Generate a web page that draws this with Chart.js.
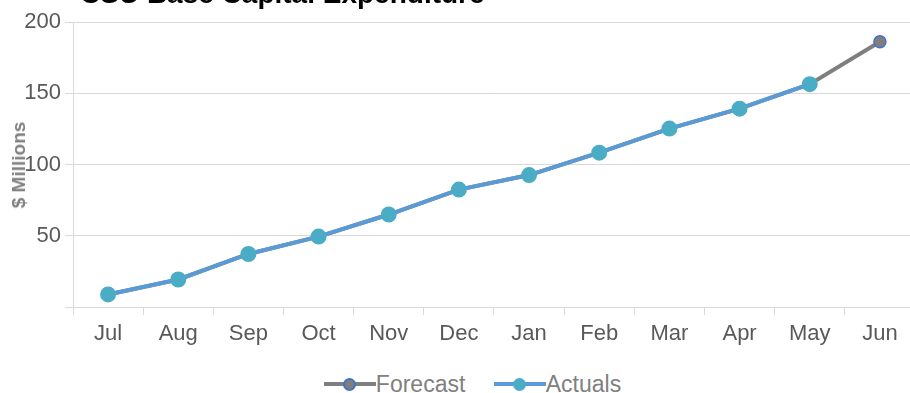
<!DOCTYPE html>
<html>
<head>
<meta charset="utf-8">
<script src="https://cdn.jsdelivr.net/npm/chart.js@4"></script>
<style>
  html, body { margin: 0; padding: 0; background: #fff; width: 910px; height: 393px; overflow: hidden; position: relative; font-family: "Liberation Sans", Arial, sans-serif; }
  #wrap { position: absolute; left: 0; top: 0; width: 925px; height: 355px; }
  #title { position: absolute; left: 80px; top: -22px; font-weight: bold; font-size: 28px; color: #000; white-space: nowrap; }
  #ytitle { position: absolute; left: 19px; top: 165px; transform: translate(-50%, -50%) rotate(-90deg); font-weight: bold; font-size: 19px; color: #808080; white-space: nowrap; }
  #legend { position: absolute; top: 371px; left: 0; width: 945px; text-align: center; font-size: 23px; color: #808080; line-height: 26px; white-space: nowrap; }
  .item { display: inline-block; margin: 0 11px; }
  .sym { display: inline-block; position: relative; width: 52px; height: 14px; vertical-align: middle; top: -2px; }
  .sym .ln { position: absolute; left: 0; right: 0; top: 5px; height: 4px; }
  .sym .dot { position: absolute; left: 19px; top: 1px; width: 13px; height: 13px; border-radius: 50%; box-sizing: border-box; }
</style>
</head>
<body>
<div id="wrap"><canvas id="graph"></canvas></div>
<div id="title">CSU Base Capital Expenditure</div>
<div id="ytitle">$ Millions</div>
<div id="legend">
  <span class="item"><span class="sym"><span class="ln" style="background:#7f7f7f"></span><span class="dot" style="background:#7f7f7f;border:2px solid #4472c4;"></span></span>Forecast</span>
  <span class="item"><span class="sym"><span class="ln" style="background:#5b9bd5"></span><span class="dot" style="background:#4bacc6;"></span></span>Actuals</span>
</div>
<script>
const months = ['Jul','Aug','Sep','Oct','Nov','Dec','Jan','Feb','Mar','Apr','May','Jun'];
const forecast = [8.8, 19.3, 37.2, 49.4, 64.9, 82.4, 92.6, 108.3, 125.2, 139.2, 156.4, 186.2];
const actuals = [8.8, 19.3, 37.2, 49.4, 64.9, 82.4, 92.6, 108.3, 125.2, 139.2, 156.4, null];

new Chart(document.getElementById('graph'), {
  type: 'line',
  data: {
    labels: months,
    datasets: [
      {
        label: 'Actuals',
        data: actuals,
        borderColor: '#5b9bd5',
        backgroundColor: '#4bacc6',
        pointBackgroundColor: '#4bacc6',
        pointBorderColor: '#4bacc6',
        borderWidth: 4,
        pointRadius: 6,
        tension: 0,
        order: 1
      },
      {
        label: 'Forecast',
        data: forecast,
        borderColor: '#7f7f7f',
        backgroundColor: '#7f7f7f',
        pointBackgroundColor: '#7f7f7f',
        pointBorderColor: '#4472c4',
        pointBorderWidth: 1.5,
        borderWidth: 4,
        pointRadius: 6,
        tension: 0,
        order: 2
      }
    ]
  },
  options: {
    responsive: true,
    maintainAspectRatio: false,
    animation: false,
    layout: { padding: { top: 22, left: 0, right: 0, bottom: 0 } },
    plugins: { legend: { display: false }, tooltip: { enabled: false } },
    scales: {
      x: {
        offset: true,
        grid: { drawOnChartArea: false, drawTicks: true, tickLength: 8, color: '#d9d9d9', offset: true },
        border: { color: '#d9d9d9' },
        ticks: { color: '#595959', font: { size: 22, family: 'Liberation Sans' }, padding: 6 },
        afterFit: s => { s.height = 48; }
      },
      y: {
        min: 0,
        max: 200,
        ticks: {
          stepSize: 50,
          color: '#595959',
          font: { size: 22, family: 'Liberation Sans' },
          padding: 4,
          callback: v => v === 0 ? '' : v
        },
        grid: { color: '#d9d9d9', tickLength: 8 },
        border: { color: '#d9d9d9' },
        afterFit: s => { s.width = 73; }
      }
    }
  }
});
</script>
</body>
</html>
